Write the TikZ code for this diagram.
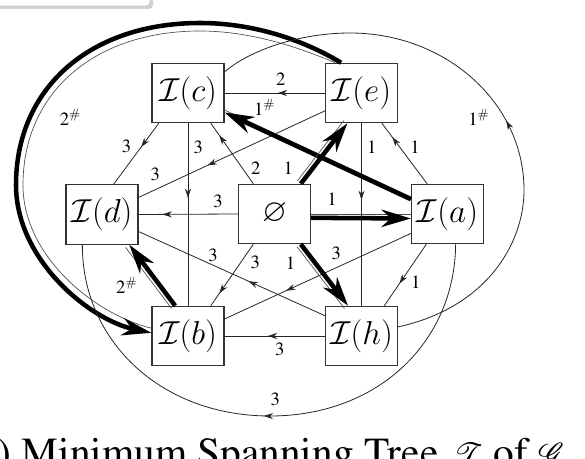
\documentclass[tikz,border=0pt]{standalone}
\usepackage{amsmath}
\usepackage{amssymb}
\usepackage{mathrsfs}
\usepackage[T1]{fontenc}
\renewcommand{\rmdefault}{ptm}
\usetikzlibrary{arrows.meta, positioning, decorations.markings}

\begin{document}
\begin{tikzpicture}[
    x=0.75pt, y=-0.75pt,
    >=Stealth,
    setnode/.style={
        draw=black!80,
        line width=0.9pt,
        fill=white,
        minimum width=54pt,
        minimum height=44.5pt,
        inner sep=1pt,
        font=\fontsize{24}{28}\selectfont
    },
    every edge/.style={
        draw=black!85,
        line width=0.6pt
    },
    midarrow/.style={
        postaction={decorate},
        decoration={markings, mark=at position #1 with {\arrow{Stealth[length=7pt,width=4.5pt]}}}
    },
    treeedge/.style={
        draw=black,
        line width=3.4pt,
        -{Stealth[length=22pt,width=13pt,inset=7pt]}
    },
    companion/.style={
        draw=black!70,
        line width=0.5pt
    },
    weight/.style={
        font=\fontsize{14}{16}\selectfont,
        inner sep=1pt,
        text=black
    }
]

\useasboundingbox (0,0) rectangle (585,459);

% cut-off panel at the top
\fill[gray!35, rounded corners=3pt] (-5,-12) rectangle (153,9);
\draw[gray!45, fill=white, rounded corners=3pt] (-5,-12) rectangle (150,6);

\node[setnode] (c) at (188,93) {$\mathcal{I}(c)$};
\node[setnode] (e) at (361.5,93) {$\mathcal{I}(e)$};
\node[setnode] (d) at (102,214.5) {$\mathcal{I}(d)$};
\node[setnode] (z) at (274.5,214) {$\varnothing$};
\node[setnode] (a) at (447.5,214) {$\mathcal{I}(a)$};
\node[setnode] (b) at (188,336) {$\mathcal{I}(b)$};
\node[setnode] (h) at (361.5,336) {$\mathcal{I}(h)$};

% thin edges
\path (e.west) edge[midarrow=0.47] node[weight, pos=0.44, above=4pt] {2} (c.east);
\path (c.-134) edge[midarrow=0.39] node[weight, pos=0.38, left=6.5pt] {3} (d.69.6);
\path (c.south) edge[midarrow=0.41] node[weight, pos=0.13, right=3pt] {3} (b.north);
\path (z.125.6) edge[midarrow=0.8] node[weight, pos=0.25, right=5pt] {2} (c.-53.7);
\path (e.-154.7) edge[midarrow=0.63] node[weight, pos=0.91, above=5.5pt] {3} (d.25.3);
\path (e.south) edge[midarrow=0.42] node[weight, pos=0.13, right=3pt] {1} (h.north);
\path (a.124.8) edge[midarrow=0.77] node[weight, pos=0.6, right=6.5pt] {1} (e.-56.1);
\path (z.west) edge[midarrow=0.76] node[weight, pos=0.2, above=3.5pt] {3} (d.east);
\path (z.-125.6) edge[midarrow=0.8] node[weight, pos=0.29, right=6pt] {3} (b.53.7);
\path (a.-152.5) edge[midarrow=0.67] node[weight, pos=0.4, above=5pt] {3} (b.25.9);
\path (h.151.3) edge[midarrow=0.41] node[weight, pos=0.6, above=1.5pt] {3} (d.-25.3);
\path (h.west) edge[midarrow=0.57] node[weight, pos=0.45, below=4pt] {3} (b.east);
\path (a.-125.2) edge[midarrow=0.64] node[weight, pos=0.61, right=6.5pt] {1} (h.53.1);

% tree edges with their thin companions
\path (a) edge[companion] (c);
\path (a.158.3) edge[treeedge] node[weight, pos=0.785, above=9pt] {1$^{\#}$} (c.-28.4);
\draw[companion, transform canvas={shift={(-2.7pt,2pt)}}] (z.49.6) -- (e.-115.4);
\path (z.49.6) edge[treeedge] node[weight, pos=0.25, left=12pt] {1} (e.-115.4);
\path (z) edge[companion] (a);
\path (z.-6.25) edge[treeedge] node[weight, pos=0.21, above=6.5pt] {1} (a.-173);
\draw[companion, transform canvas={shift={(-2.7pt,-2pt)}}] (z.-49.6) -- (h.114.2);
\path (z.-49.6) edge[treeedge] node[weight, pos=0.31, left=12.5pt] {1} (h.114.2);
\draw[companion, transform canvas={shift={(-2.7pt,-2pt)}}] (b.113.4) -- (d.-48.6);
\path (b.113.4) edge[treeedge] node[weight, pos=0.34, left=14pt] {2$^{\#}$} (d.-48.6);

% long arcs
\draw[companion] (e.131) .. controls (298,47) and (250,31) .. (200,31)
    .. controls (95,31) and (23,92) .. (23,185)
    .. controls (23,256) and (94,314) .. (b.168);
\draw[treeedge] (e.124.5) .. controls (300,38) and (250,23) .. (200,23)
    .. controls (90,23) and (16,88) .. (16,185) node[weight, pos=0.65, below right=7pt and 11pt] {2$^{\#}$}
    .. controls (16,260) and (90,320) .. (b.175);
\draw[black!85, line width=0.6pt, midarrow=0.46] (h.14) .. controls (485,308) and (524,245) .. (524,190)
    .. controls (524,103) and (446,33) .. (350,33) node[weight, pos=0.3, left=10pt] {1$^{\#}$}
    .. controls (300,33) and (250,50) .. (c.30);
\draw[black!85, line width=0.6pt, midarrow=0.51] (a.-75.7) .. controls (455,340) and (380,416) .. (270,416)
    node[weight, pos=1, above=6.5pt, xshift=4pt] {3}
    .. controls (160,416) and (82,340) .. (d.-123.3);

\node[anchor=base west, font=\fontsize{31}{36}\selectfont] (caption) at (-39,466)
    {(c) Minimum Spanning Tree $\mathscr{T}$ of $\mathscr{G}$};

\end{tikzpicture}
\end{document}
